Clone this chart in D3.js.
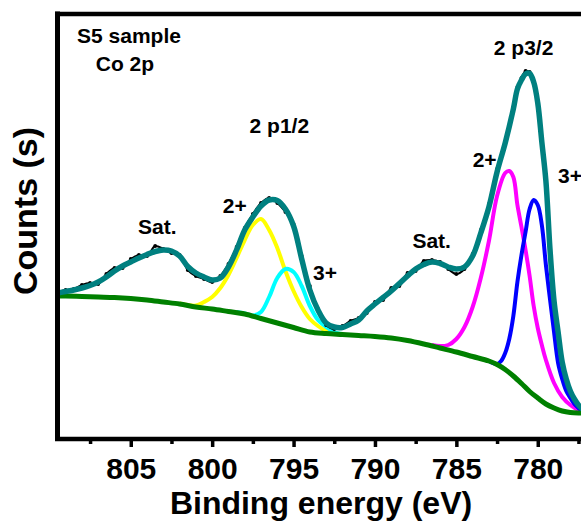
<!DOCTYPE html>
<html>
<head>
<meta charset="utf-8">
<script src="https://cdn.jsdelivr.net/npm/d3@7"></script>
<style>
  body { margin: 0; background: #fff; }
  svg { display: block; }
  text { font-family: "Liberation Sans", Arial, sans-serif; font-weight: bold; fill: #000; }
</style>
</head>
<body>
<svg id="chart" width="581" height="525"></svg>
<script>
// Data: [binding energy (eV), counts (a.u.)]
const measured = [[809.5,147],[809,149],[808.5,150],[808,154],[807.5,156],[807,155],[806.5,165],[806,171],[805.5,171],[805,180],
  [804.5,184],[804,183],[803.5,193],[803,190],[802.5,186],[802,184],[801.5,169],[801,163],[800.5,160],[800,157],
  [799.5,163],[799,175],[798.5,192],[798,211],[797.5,225],[797,236],[796.5,241],[796,236],[795.5,227],[795,215],
  [794.5,183],[794,153],[793.5,130],[793,114],[792.5,110],[792,113],[791.5,118],[791,121],[790.5,126],[790,137],
  [789.5,139],[789,151],[788.5,153],[788,166],[787.5,168],[787,178],[786.5,179],[786,177],[785.5,170],[785,165],
  [784.5,170],[784,185],[783.5,209],[783,235],[782.5,270],[782,297],[781.5,332],[781.25,352],[781,361],[780.75,368],
  [780.5,367],[780.25,356],[780,334],[779.75,296],[779.5,257],[779.25,190],[779,137],[778.75,106],[778.5,78],
  [778.25,60],[778,49],[777.5,34],[777,28]];

const envelope = [[809.5,146],[809,147.5],[808.5,149],[808,151],[807.5,153.5],[807,157],[806.5,162],[806,168],[805.5,173],[805,177],
  [804.5,181],[804,184.5],[803.5,187.5],[803,189],[802.5,188],[802,183],[801.5,172.5],[801,166],[800.5,162],[800,159],
  [799.5,161],[799,172],[798.5,189],[798,209],[797.5,222],[797,233],[796.5,239],[796,238.5],[795.5,230],[795,213],
  [794.5,180],[794,149],[793.5,129],[793,116],[792.5,112],[792,111.5],[791.5,115],[791,119],[790.5,128],[790,135],
  [789.5,141.5],[789,148],[788.5,155.5],[788,163],[787.5,170],[787,174.5],[786.5,177],[786,175.5],[785.5,172],[785,170],
  [784.5,172],[784,183],[783.5,206],[783,232],[782.5,267],[782,296],[781.5,330],[781.25,350],[781,359],[780.75,365],
  [780.5,365.5],[780.25,357],[780,336],[779.75,297],[779.5,258],[779.25,190],[779,138],[778.75,107],[778.5,77],
  [778.25,60],[778,48],[777.75,40],[777.5,34],[777.25,30],[777,28]];

const background = [[810,143],[809,143],[808,142.5],[807,142],[806,141.5],[805,140.5],[804,139],[803,137],[802,135],[801,132],
  [800,130],[799,127.5],[798,125],[797,120.5],[796,116],[795,111.5],[794,107],[793,105.5],[792,104.5],[791,103.5],
  [790,102.5],[789,101],[788,98.5],[787,95],[786,91],[785,87],[784,82.5],[783,78],[782.5,74.5],[782,69.5],[781.5,63],
  [781,55.5],[780.5,47.5],[780,41],[779.5,35],[779,31],[778.5,28],[778,26.5],[777.5,26],[777,26],[776.5,26]];

const co2p12 = [[802,135.5],[801.5,134],[801,133.5],[800.5,137],[800,142],[799.5,151],[799,164],[798.5,181],[798,199],
  [797.5,214],[797,220],[796.5,209],[796,191],[795.5,168],[795,148],[794.5,132],[794,120],[793.5,113],[793,108],
  [792.5,106],[792,105]];

const co3p12 = [[798.5,127],[798,125.5],[797.5,123.5],[797,127],[796.5,142],[796,161],[795.5,170],[795,167],[794.5,153],
  [794,133],[793.5,119],[793,112],[792.5,107],[792,105]];

const co2p32 = [[786.5,94],[786,93],[785.5,94],[785,100],[784.5,112],[784,132],[783.5,161],[783,198],[782.5,243],[782,266],
  [781.75,268],[781.5,262],[781.25,234],[781,212],[780.75,189],[780.5,163],[780.25,133],[780,111],[779.75,94],
  [779.5,79],[779,56],[778.5,42],[778,34],[777.5,29],[777,27]];

const co3p32 = [[783,78],[782.5,75],[782.25,78],[782,86],[781.75,100],[781.5,123],[781.25,157],[781,184],[780.75,207],
  [780.5,230],[780.25,239],[780,234],[779.75,214],[779.5,174],[779.25,140],[779,107],[778.75,76],[778.5,60],
  [778.25,48],[778,41],[777.75,35],[777.5,31],[777.25,28],[777,27]];

const majorTicks = [805, 800, 795, 790, 785, 780];
const minorTicks = [807.5, 802.5, 797.5, 792.5, 787.5, 782.5, 777.5];

// annotation text anchored at [eV, counts] (left, baseline)
const notes = [
  ["S5 sample", 808.3, 396], ["Co 2p", 807.15, 368],
  ["2 p1/2", 797.7, 306], ["2 p3/2", 782.7, 384],
  ["Sat.", 804.55, 205], ["2+", 799.35, 226], ["3+", 793.8, 159],
  ["Sat.", 787.7, 191], ["2+", 784.0, 272], ["3+", 778.75, 256]
];

// Setup
const svg = d3.select('#chart');
const plotLeft = 57.5, plotTop = 14, plotBottom = 439;
const x = d3.scaleLinear().domain([809.5, 776.5]).range([plotLeft, plotLeft + 33 * 16.28]);
const y = d3.scaleLinear().domain([0, 425]).range([plotBottom, plotTop]);

svg.append('defs').append('clipPath').attr('id', 'plot')
  .append('rect').attr('x', plotLeft).attr('y', plotTop).attr('width', 600).attr('height', plotBottom - plotTop);

const line = d3.line().x(d => x(d[0])).y(d => y(d[1])).curve(d3.curveCatmullRom.alpha(0.5));
const g = svg.append('g').attr('clip-path', 'url(#plot)');

const comps = [[co2p12, '#ffff00'], [co3p12, '#00ffff'], [co2p32, '#ff00ff'], [co3p32, '#0000ff']];
comps.forEach(([d, c]) => {
  g.append('path').datum(d).attr('d', line).attr('fill', 'none')
    .attr('stroke', c).attr('stroke-width', 4);
});

g.append('path').datum(background).attr('d', line).attr('fill', 'none')
  .attr('stroke', '#008000').attr('stroke-width', 5);

g.append('path').datum(measured).attr('d', line).attr('fill', 'none')
  .attr('stroke', '#000').attr('stroke-width', 2);
g.selectAll('circle.pt').data(measured).join('circle')
  .attr('class', 'pt')
  .attr('cx', d => x(d[0])).attr('cy', d => y(d[1])).attr('r', 1.9).attr('fill', '#000');

g.append('path').datum(envelope).attr('d', line).attr('fill', 'none')
  .attr('stroke', '#008080').attr('stroke-width', 5.5);

// Axes
const gx = svg.append('g').attr('transform', `translate(0,${plotBottom})`);
gx.call(d3.axisBottom(x).tickValues(minorTicks).tickSize(5).tickFormat(''));
const gx2 = svg.append('g').attr('transform', `translate(0,${plotBottom})`);
gx2.call(d3.axisBottom(x).tickValues(majorTicks).tickSize(8).tickPadding(11).tickFormat(d3.format('d')));
[gx, gx2].forEach(a => {
  a.select('.domain').remove();
  a.selectAll('line').attr('stroke', '#000').attr('stroke-width', 3.5);
  a.selectAll('text').style('font-size', '30px').attr('font-family', null);
});

// Frame
svg.append('line').attr('x1', plotLeft).attr('x2', plotLeft).attr('y1', plotTop - 2.5).attr('y2', plotBottom + 2)
  .attr('stroke', '#000').attr('stroke-width', 5);
svg.append('line').attr('x1', plotLeft - 2.5).attr('x2', 600).attr('y1', plotTop).attr('y2', plotTop)
  .attr('stroke', '#000').attr('stroke-width', 4.5);
svg.append('line').attr('x1', plotLeft - 2.5).attr('x2', 600).attr('y1', plotBottom).attr('y2', plotBottom)
  .attr('stroke', '#000').attr('stroke-width', 4.5);

// Titles
svg.append('text').attr('x', 321).attr('y', 514).attr('text-anchor', 'middle')
  .style('font-size', '32px').text('Binding energy (eV)');
svg.append('text').attr('transform', 'translate(37,211) rotate(-90)').attr('text-anchor', 'middle')
  .style('font-size', '34px').text('Counts (s)');

svg.selectAll('text.note').data(notes).join('text')
  .attr('class', 'note')
  .attr('x', d => x(d[1])).attr('y', d => y(d[2]))
  .style('font-size', '21px').text(d => d[0]);
</script>
</body>
</html>
